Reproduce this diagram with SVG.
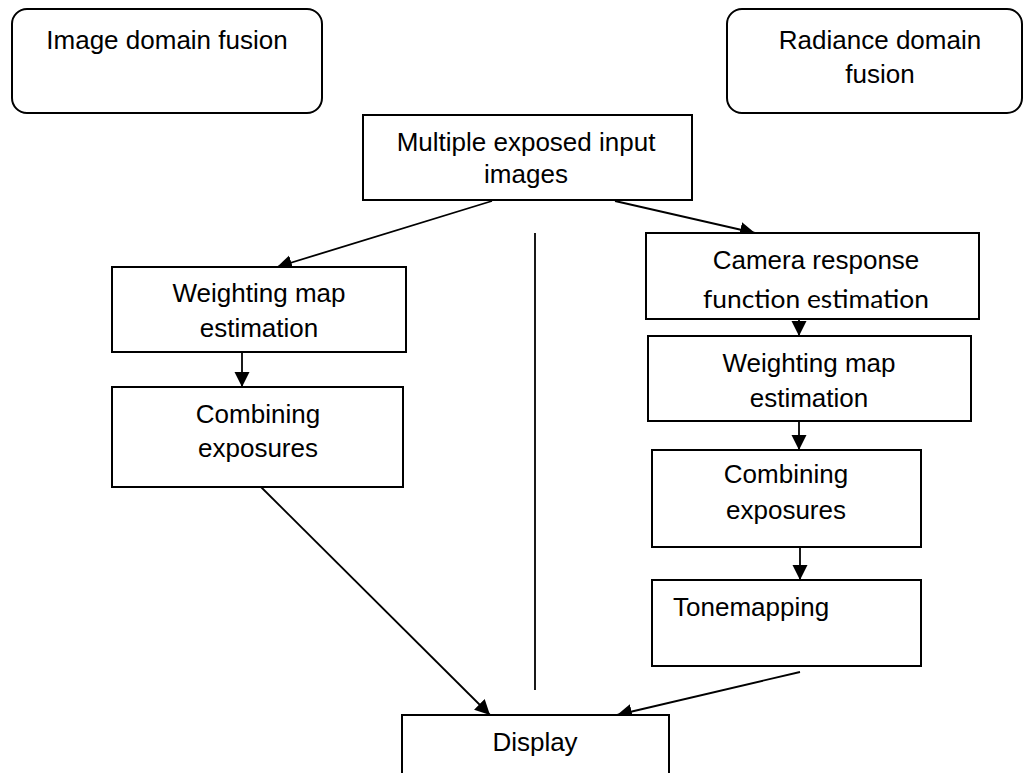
<svg xmlns="http://www.w3.org/2000/svg" width="1026" height="773" viewBox="0 0 1026 773">
<defs>
<style>
.box{fill:#fff;stroke:#000;stroke-width:2}
.t{font-family:"Liberation Sans",Arial,sans-serif;font-size:26px;fill:#000;text-anchor:middle}
.c{fill:none;stroke:#000;stroke-width:1.8}
</style>
<marker id="ah" markerUnits="userSpaceOnUse" markerWidth="18" markerHeight="18" refX="15" refY="7.5" orient="auto">
<path d="M0,0 L15,7.5 L0,15 z" fill="#000"/>
</marker>
</defs>
<rect width="1026" height="773" fill="#fff"/>
<g id="connectors">
<line class="c" x1="492" y1="201" x2="277" y2="267" marker-end="url(#ah)"/>
<line class="c" x1="615" y1="201" x2="755" y2="233" marker-end="url(#ah)"/>
<line class="c" x1="242" y1="352" x2="242" y2="387" marker-end="url(#ah)"/>
<line class="c" x1="799" y1="319" x2="799" y2="336" marker-end="url(#ah)"/>
<line class="c" x1="799" y1="421" x2="799" y2="450" marker-end="url(#ah)"/>
<line class="c" x1="800" y1="547" x2="800" y2="580" marker-end="url(#ah)"/>
<line class="c" x1="261" y1="487" x2="490" y2="715" marker-end="url(#ah)"/>
<line class="c" x1="800" y1="672" x2="617" y2="715" marker-end="url(#ah)"/>
<line class="c" x1="535" y1="233" x2="535" y2="690"/>
</g>
<g id="image-domain">
<rect class="box" x="12" y="9" width="310" height="104" rx="15"/>
<text class="t" x="167" y="49">Image domain fusion</text>
</g>
<g id="radiance-domain">
<rect class="box" x="727" y="9" width="295" height="104" rx="15"/>
<text class="t" x="880" y="49">Radiance domain</text>
<text class="t" x="880" y="83">fusion</text>
</g>
<g id="input">
<rect class="box" x="363" y="115" width="329" height="85"/>
<text class="t" x="526" y="151">Multiple exposed input</text>
<text class="t" x="526" y="183">images</text>
</g>
<g id="weight-left">
<rect class="box" x="112" y="267" width="294" height="85"/>
<text class="t" x="259" y="302">Weighting map</text>
<text class="t" x="259" y="337">estimation</text>
</g>
<g id="combine-left">
<rect class="box" x="112" y="387" width="291" height="100"/>
<text class="t" x="258" y="423">Combining</text>
<text class="t" x="258" y="457">exposures</text>
</g>
<g id="camera">
<rect class="box" x="646" y="233" width="333" height="86"/>
<text class="t" x="816" y="269">Camera response</text>
<text class="t" x="816" y="308" style="font-family:Lato,'Liberation Sans',sans-serif;font-size:25px" textLength="226" lengthAdjust="spacingAndGlyphs">function estimation</text>
</g>
<g id="weight-right">
<rect class="box" x="648" y="336" width="323" height="85"/>
<text class="t" x="809" y="372">Weighting map</text>
<text class="t" x="809" y="407">estimation</text>
</g>
<g id="combine-right">
<rect class="box" x="652" y="450" width="269" height="97"/>
<text class="t" x="786" y="483">Combining</text>
<text class="t" x="786" y="519">exposures</text>
</g>
<g id="tonemapping">
<rect class="box" x="652" y="580" width="269" height="86"/>
<text class="t" x="673" y="616" style="text-anchor:start">Tonemapping</text>
</g>
<g id="display">
<rect class="box" x="402" y="715" width="267" height="80"/>
<text class="t" x="535" y="751">Display</text>
</g>
</svg>
